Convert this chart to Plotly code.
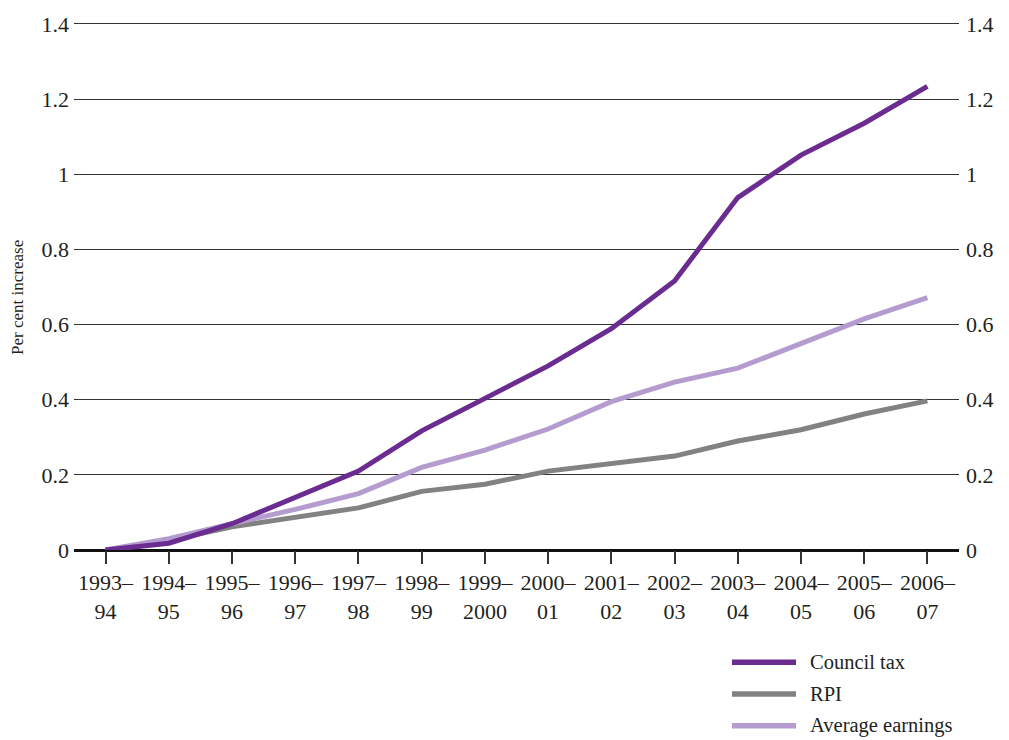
import plotly.graph_objects as go

years = ["1993–<br>94", "1994–<br>95", "1995–<br>96", "1996–<br>97", "1997–<br>98", "1998–<br>99",
         "1999–<br>2000", "2000–<br>01", "2001–<br>02", "2002–<br>03", "2003–<br>04", "2004–<br>05",
         "2005–<br>06", "2006–<br>07"]
council_tax = [0, 0.018, 0.07, 0.14, 0.21, 0.317, 0.404, 0.49, 0.589, 0.716, 0.938, 1.051, 1.136, 1.234]
rpi = [0, 0.025, 0.062, 0.086, 0.112, 0.156, 0.175, 0.21, 0.231, 0.25, 0.29, 0.32, 0.362, 0.397]
avg_earnings = [0, 0.03, 0.07, 0.108, 0.15, 0.22, 0.266, 0.322, 0.395, 0.447, 0.484, 0.55, 0.615, 0.672]
y_ticks = [0, 0.2, 0.4, 0.6, 0.8, 1, 1.2, 1.4]
y_ticktext = ["0", "0.2", "0.4", "0.6", "0.8", "1", "1.2", "1.4"]

series = [
    ("Council tax", council_tax, "#6a2c91"),
    ("RPI", rpi, "#828282"),
    ("Average earnings", avg_earnings, "#b59ccf"),
]

FONT = "Liberation Serif"
TXT = "#231f20"
TICK_SIZE = 22
x_idx = list(range(len(years)))
TOP = 18
Y_RANGE = [0, 1.4 * (550 - TOP) / 530]

fig = go.Figure()
for name, vals, col in [series[1], series[2], series[0]]:
    fig.add_trace(go.Scatter(x=x_idx, y=vals, mode="lines", name=name,
                             line=dict(color=col, width=5), showlegend=False))
# invisible trace to activate right axis
fig.add_trace(go.Scatter(x=x_idx, y=council_tax, yaxis="y2", mode="lines",
                         line=dict(width=0), opacity=0, showlegend=False, hoverinfo="skip"))

# manual legend
W = 1009 - 74 - 50
H = 550 - TOP
def px_x(p):
    return (p - 74) / W
def px_y(p):
    return (550 - p) / H

shapes = []
annotations = []
for i, (name, vals, col) in enumerate(series):
    yy = px_y(663 + 32 * i)
    shapes.append(dict(type="line", xref="paper", yref="paper", x0=px_x(732), x1=px_x(796),
                       y0=yy, y1=yy, line=dict(color=col, width=5.5)))
    annotations.append(dict(xref="paper", yref="paper", x=px_x(808), y=yy, text=name,
                            showarrow=False, xanchor="left", yanchor="middle",
                            font=dict(family=FONT, size=20.5, color=TXT)))
annotations.append(dict(xref="paper", yref="paper", x=px_x(18), y=px_y(296), text="Per cent increase",
                        showarrow=False, textangle=-90, xanchor="center", yanchor="middle",
                        font=dict(family=FONT, size=17, color=TXT)))

fig.update_layout(
    width=1009, height=740,
    margin=dict(l=74, r=50, t=TOP, b=190),
    paper_bgcolor="white", plot_bgcolor="white",
    font=dict(family=FONT, size=TICK_SIZE, color=TXT),
    xaxis=dict(range=[-0.5, 13.5], tickvals=x_idx, ticktext=years, ticks="outside",
               ticklen=13, tickwidth=1.5, tickcolor="#333", showgrid=False, zeroline=False,
               showline=False, tickfont=dict(family=FONT, size=TICK_SIZE, color=TXT)),
    yaxis=dict(range=Y_RANGE, tickvals=y_ticks, ticktext=y_ticktext, showgrid=True,
               gridcolor="#333", gridwidth=1, zeroline=True, zerolinecolor="#111",
               zerolinewidth=3, showline=False, ticks="", ticklabelstandoff=4,
               tickfont=dict(family=FONT, size=TICK_SIZE, color=TXT)),
    yaxis2=dict(range=Y_RANGE, tickvals=y_ticks, ticktext=y_ticktext, overlaying="y",
                side="right", showgrid=False, zeroline=False, showline=False, ticks="",
                ticklabelstandoff=6, tickfont=dict(family=FONT, size=TICK_SIZE, color=TXT)),
    shapes=shapes, annotations=annotations,
)

fig.write_html("out.html", config={"displayModeBar": False},
               post_script="document.body.style.margin='0';document.body.style.overflow='hidden';")
